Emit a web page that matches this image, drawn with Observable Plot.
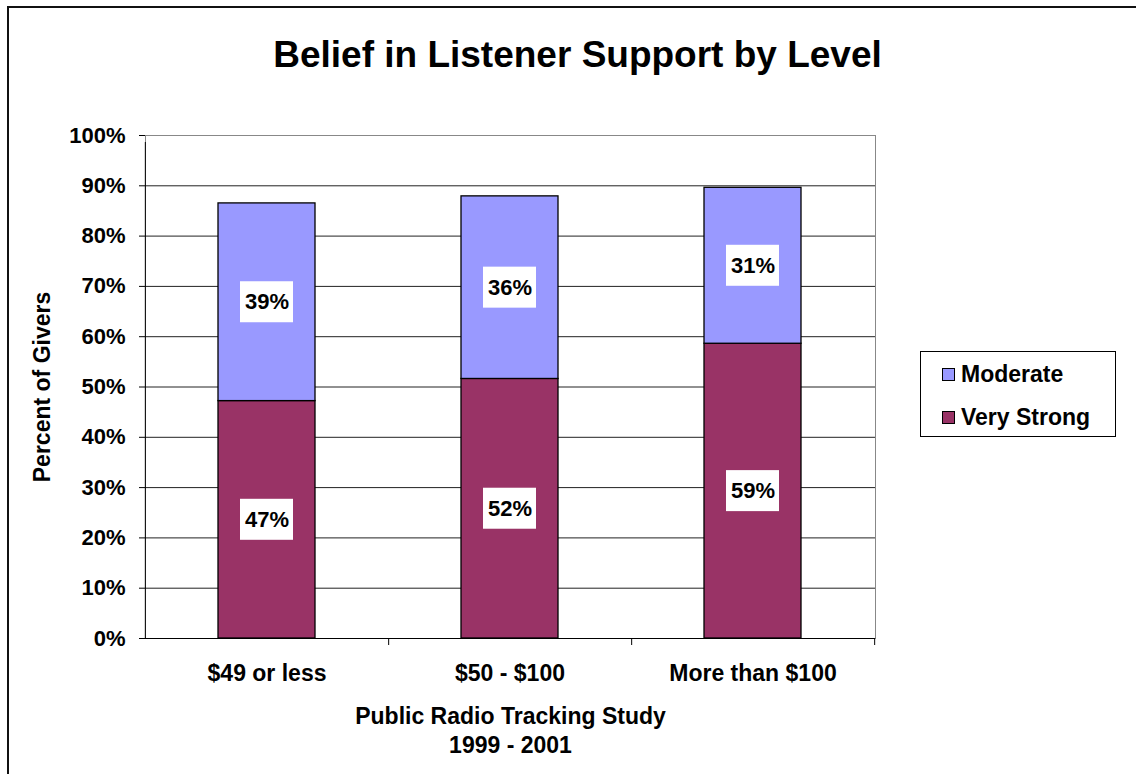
<!DOCTYPE html>
<html>
<head>
<meta charset="utf-8">
<script src="https://cdn.jsdelivr.net/npm/d3@7"></script>
<script src="https://cdn.jsdelivr.net/npm/@observablehq/plot@0.6"></script>
<style>
  html, body { margin: 0; padding: 0; background: #fff; overflow: hidden; }
  #wrap { position: relative; width: 1136px; height: 774px; font-family: "Liberation Sans", Arial, sans-serif; font-weight: bold; }
  #frame { position: absolute; left: 7px; top: 6px; width: 1200px; height: 800px; border: 2px solid #111; pointer-events: none; }
  #legend { position: absolute; left: 920px; top: 351px; width: 196px; height: 86px; border: 1px solid #000; background: #fff; box-sizing: border-box; }
  .item { position: absolute; left: 21px; display: flex; align-items: center; font-size: 23px; color: #000; line-height: 26px; }
  .sw { width: 13px; height: 13px; border: 1px solid #000; margin-right: 6px; box-sizing: border-box; }
  svg { position: absolute; left: 0; top: 0; }
</style>
</head>
<body>
<div id="wrap"><div id="chart"></div><div id="frame"></div><div id="legend"></div></div>
<script>
const levels = ["$49 or less", "$50 - $100", "More than $100"];
const series = ["Very Strong", "Moderate"];
const veryStrong = [47.2, 51.6, 58.6];
const moderate = [39.3, 36.3, 31.0];
const labelsVeryStrong = ["47%", "52%", "59%"];
const labelsModerate = ["39%", "36%", "31%"];
const yTicks = [0, 10, 20, 30, 40, 50, 60, 70, 80, 90, 100];
const colors = {"Very Strong": "#993366", "Moderate": "#9999FF"};
const title = "Belief in Listener Support by Level";
const xTitle = ["Public Radio Tracking Study", "1999 - 2001"];
const yTitle = "Percent of Givers";

const rows = [];
levels.forEach((lv, i) => {
  rows.push({level: lv, series: "Very Strong", y1: 0, y2: veryStrong[i], label: labelsVeryStrong[i]});
  rows.push({level: lv, series: "Moderate", y1: veryStrong[i], y2: veryStrong[i] + moderate[i], label: labelsModerate[i]});
});
rows.forEach(r => r.mid = (r.y1 + r.y2) / 2);

const W = 1136, H = 774, ML = 145, MR = 261, MT = 135, MB = 136;
const pIn = 0.6, pOut = 0.3;
const step = (W - ML - MR) / (levels.length - pIn + 2 * pOut);
const fontFamily = "Liberation Sans, Arial, sans-serif";

const plot = Plot.plot({
  width: W, height: H,
  marginLeft: ML, marginRight: MR, marginTop: MT, marginBottom: MB,
  style: {fontFamily, fontWeight: "bold", fontSize: "22px", color: "#000", background: "transparent"},
  x: {domain: levels, type: "band", paddingInner: pIn, paddingOuter: pOut, label: null},
  y: {domain: [0, 100], label: null},
  marks: [
    Plot.frame({stroke: "#888", strokeWidth: 1}),
    Plot.gridY(yTicks.filter(d => d > 0 && d < 100), {stroke: "#222", strokeOpacity: 1, strokeWidth: 1}),
    Plot.barY(rows, {x: "level", y1: "y1", y2: "y2", fill: d => colors[d.series], stroke: "#000", strokeWidth: 1.3}),
    Plot.barY(rows, {x: "level", y1: "mid", y2: "mid", fill: "#fff", insetLeft: 22, insetRight: 22, insetTop: -20.5, insetBottom: -20.5}),
    Plot.text(rows, {x: "level", y: "mid", text: "label", fill: "#000", fontSize: 22, fontWeight: "bold"}),
    // axis lines
    Plot.ruleX([levels[0]], {x: d => d, dx: -step / 2, y1: 0, y2: 100, stroke: "#000", insetBottom: -7}),
    Plot.ruleY([0], {stroke: "#000"}),
    Plot.ruleX(levels, {x: d => d, dx: step / 2, y1: 0, y2: 0, stroke: "#000", insetBottom: -7}),
    Plot.axisY(yTicks, {tickSize: 6, tickPadding: 14, tickFormat: d => d + "%", fontSize: 22, fontWeight: "bold", stroke: "#000"}),
    Plot.axisX({tickSize: 0, tickPadding: 26, fontSize: 23, fontWeight: "bold"}),
    Plot.text([xTitle[0]], {frameAnchor: "bottom", lineAnchor: "middle", dy: 78, fontSize: 23, fontWeight: "bold"}),
    Plot.text([xTitle[1]], {frameAnchor: "bottom", lineAnchor: "middle", dy: 107, fontSize: 23, fontWeight: "bold"}),
    Plot.text([yTitle], {frameAnchor: "left", textAnchor: "middle", lineAnchor: "middle", dx: -103, rotate: -90, fontSize: 23, fontWeight: "bold"}),
    Plot.text([title], {frameAnchor: "top", lineAnchor: "middle", dx: 67, dy: -80, fontSize: 37, fontWeight: "bold"})
  ]
});
document.getElementById("chart").appendChild(plot);

const legend = d3.select("#legend");
const legendOrder = ["Moderate", "Very Strong"];
legendOrder.forEach((s, i) => {
  const it = legend.append("div").attr("class", "item").style("top", (i === 0 ? 9 : 52) + "px");
  it.append("div").attr("class", "sw").style("background", colors[s]);
  it.append("span").text(s);
});
</script>
</body>
</html>
